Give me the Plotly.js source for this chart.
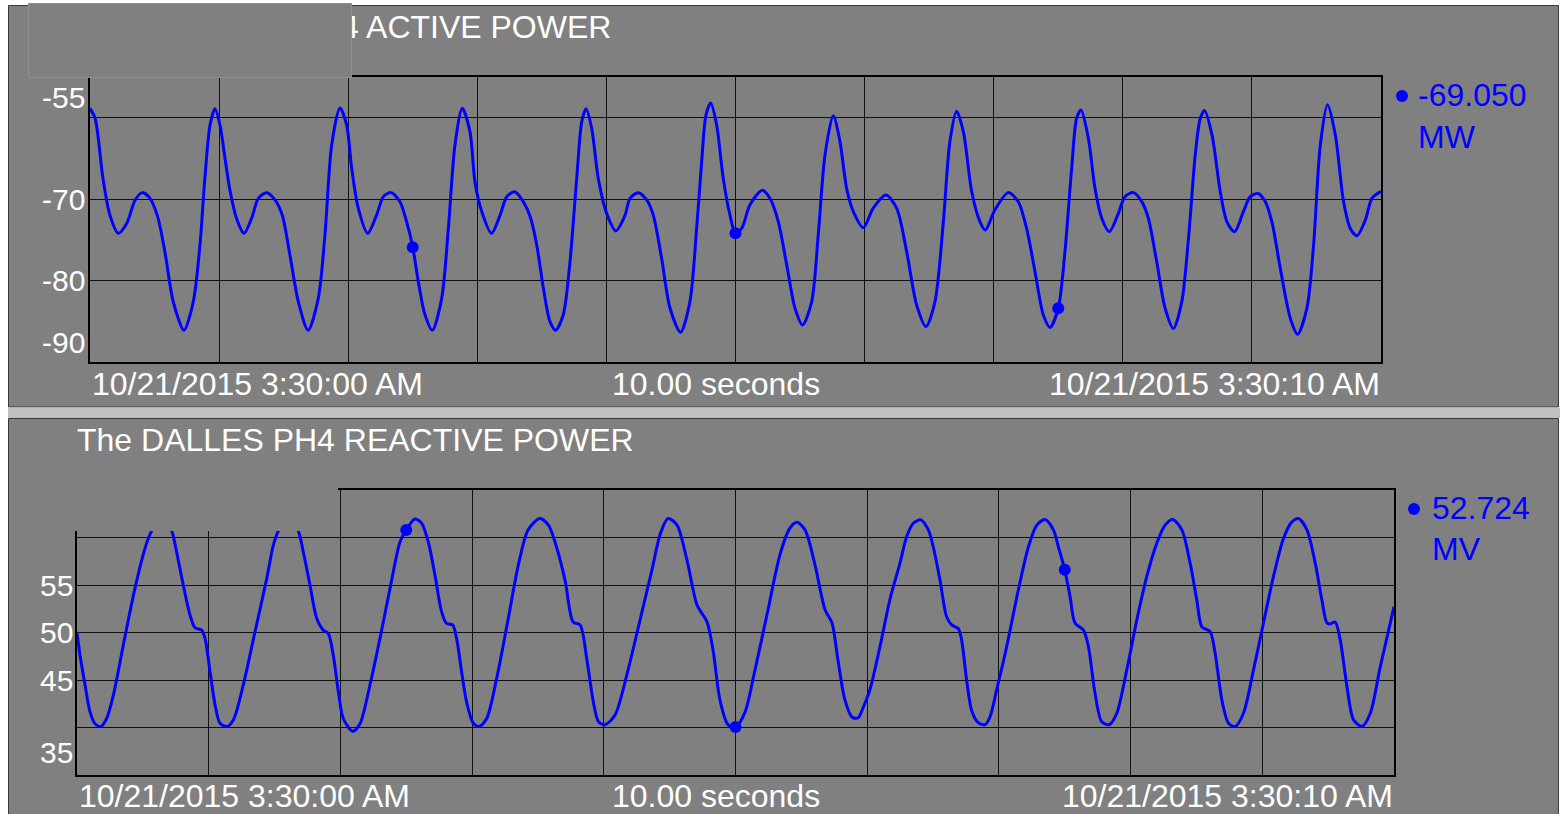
<!DOCTYPE html>
<html>
<head>
<meta charset="utf-8">
<script src="https://cdn.plot.ly/plotly-3.0.1.min.js"></script>
<style>html,body{margin:0;padding:0;background:#fff;}#chart{width:1560px;height:814px;}</style>
</head>
<body>
<div id="chart"></div>
<script>
// ---------- DATA ----------
// Seconds after 10/21/2015 3:30:00 AM
const activeTime = [0.00,0.04,0.10,0.155,0.22,0.284,0.35,0.405,0.465,0.524,0.58,0.645,0.728,0.80,0.852,0.89,0.93,0.968,
 1.007,1.046,1.084,1.136,1.193,1.252,1.304,1.369,1.433,1.49,1.549,1.614,1.69,1.768,1.82,1.872,1.936,1.988,
 2.027,2.078,2.151,2.22,2.272,2.332,2.40,2.453,2.50,2.543,2.595,2.652,2.724,2.776,2.827,2.884,2.943,2.982,
 3.034,3.11,3.176,3.228,3.29,3.356,3.41,3.46,3.512,3.563,3.607,3.666,3.718,3.77,3.809,3.842,3.886,3.937,
 4.002,4.074,4.144,4.183,4.247,4.312,4.363,4.428,4.493,4.575,4.647,4.699,4.738,4.771,4.808,4.854,4.905,4.957,
 5.00,5.048,5.112,5.208,5.267,5.332,5.397,5.461,5.52,5.59,5.641,5.693,5.757,5.809,5.861,5.912,5.99,
 6.067,6.166,6.248,6.326,6.403,6.476,6.545,6.61,6.661,6.713,6.765,6.83,6.894,6.935,
 7.01,7.113,7.19,7.255,7.32,7.384,7.436,7.50,7.552,7.604,7.642,7.676,7.733,7.785,7.837,7.896,7.966,
 8.017,8.082,8.147,8.198,8.263,8.328,8.392,8.457,8.509,8.561,8.60,8.633,8.691,8.755,8.807,8.866,8.935,8.987,
 9.047,9.103,9.155,9.22,9.297,9.354,9.426,9.478,9.53,9.586,9.646,9.71,9.762,9.814,9.879,9.93,10.0];
const activePower = [-58.85,-60.1,-67.4,-72.0,-74.2,-73.0,-70.1,-69.2,-69.9,-72.15,-76.45,-82.6,-86.1,-82.6,-75.6,-67.4,-60.9,-58.9,
 -60.9,-65.0,-68.9,-72.4,-74.2,-72.35,-69.9,-69.2,-70.1,-72.0,-76.9,-82.6,-86.1,-82.2,-74.4,-63.35,-58.8,-60.9,
 -66.2,-71.1,-74.2,-71.95,-69.7,-69.2,-70.3,-72.8,-75.9,-80.1,-84.2,-86.1,-82.2,-73.6,-63.35,-58.85,-61.7,-67.9,
 -71.5,-74.2,-72.0,-69.7,-69.1,-70.3,-72.15,-75.6,-80.95,-85.05,-86.1,-84.2,-77.7,-67.45,-60.5,-58.9,-61.3,-67.45,
 -71.75,-73.9,-72.0,-69.9,-69.2,-70.1,-71.95,-77.3,-83.4,-86.35,-82.6,-73.6,-65.4,-59.7,-58.2,-60.9,-67.45,-71.95,
 -74.2,-73.6,-70.7,-68.9,-69.9,-72.8,-78.1,-83.4,-85.45,-82.6,-74.4,-64.6,-59.75,-62.9,-68.7,-71.5,-73.5,
 -71.1,-69.5,-71.1,-76.45,-83.0,-85.65,-82.6,-72.8,-62.9,-59.2,-61.7,-69.1,-72.8,-73.8,
 -71.3,-69.2,-70.3,-73.6,-78.9,-84.2,-85.75,-83.4,-76.45,-66.2,-60.1,-59.05,-62.5,-68.7,-72.35,-74.0,-71.75,
 -69.7,-69.2,-70.3,-72.35,-77.7,-83.4,-85.9,-82.6,-74.8,-64.6,-60.1,-59.1,-62.1,-69.1,-72.8,-74.0,-71.5,-69.7,
 -69.3,-70.3,-72.8,-78.5,-84.6,-86.6,-83.4,-75.6,-63.35,-58.4,-62.1,-70.3,-73.6,-74.5,-72.55,-69.9,-69.05];

const reactiveTime = [0.00,0.023,0.061,0.099,0.137,0.18,0.225,0.276,0.352,0.44,0.524,0.567,0.645,0.719,0.756,0.807,0.858,0.896,0.947,0.972,
 1.01,1.048,1.086,1.137,1.187,1.263,1.352,1.441,1.491,1.529,1.605,1.68,1.718,1.769,1.82,1.87,1.908,1.946,1.984,
 2.022,2.093,2.149,2.225,2.301,2.377,2.453,2.50,2.566,2.617,2.667,2.718,2.768,2.806,2.852,2.882,2.92,2.958,
 3.009,3.054,3.111,3.187,3.275,3.351,3.425,3.515,3.58,3.63,3.706,3.767,3.82,3.872,3.918,3.96,
 4.009,4.085,4.184,4.275,4.366,4.427,4.488,4.556,4.632,4.708,4.784,4.829,4.882,4.943,
 5.00,5.072,5.148,5.247,5.338,5.414,5.467,5.528,5.604,5.68,5.733,5.778,5.831,5.884,5.93,5.968,
 6.021,6.097,6.173,6.249,6.30,6.35,6.406,6.464,6.502,6.553,6.603,6.641,6.692,6.717,6.755,6.793,6.844,6.895,6.932,6.983,
 7.059,7.148,7.224,7.288,7.35,7.414,7.452,7.50,7.54,7.578,7.642,7.68,7.73,7.781,7.839,7.895,7.971,
 8.047,8.123,8.199,8.262,8.32,8.389,8.452,8.503,8.541,8.604,8.642,8.693,8.743,8.794,8.857,8.933,
 9.009,9.085,9.161,9.225,9.275,9.339,9.402,9.453,9.491,9.516,9.554,9.592,9.643,9.693,9.757,9.82,9.896,10.0];
const reactivePower = [50.0,47.6,44.5,41.65,40.4,40.1,40.95,43.4,48.7,54.65,59.2,60.7,62.3,60.7,58.5,55.0,51.85,50.5,50.25,49.4,
 45.9,42.4,40.45,40.1,40.8,44.5,50.1,55.7,59.2,60.7,62.3,60.7,58.5,55.0,51.5,50.25,49.9,47.6,43.8,
 40.95,39.6,40.4,44.5,49.4,54.65,59.55,60.8,61.95,61.5,59.55,56.05,52.2,50.95,50.8,49.4,45.9,42.7,
 40.45,40.1,40.95,45.2,51.5,57.1,60.8,62.0,61.3,59.5,55.5,51.1,50.8,47.1,42.9,40.6,
 40.3,41.3,46.05,51.3,56.6,60.3,62.0,61.3,57.6,52.9,51.1,48.2,42.9,40.3,
 40.05,41.6,46.05,52.4,58.2,61.0,61.6,60.8,57.1,52.4,51.0,47.1,42.9,41.1,41.0,42.05,
 44.0,48.5,53.5,57.3,60.1,61.5,61.85,60.8,59.0,55.5,51.65,50.8,50.4,49.2,45.0,41.8,40.5,40.3,41.1,43.95,
 48.5,54.5,59.0,61.3,61.9,60.8,59.0,56.6,53.8,51.0,50.25,48.5,43.6,40.6,40.3,41.5,46.05,
 51.3,55.9,59.4,61.3,61.9,60.8,57.3,53.4,50.6,50.1,47.8,42.9,40.45,40.1,41.5,46.05,
 51.0,55.9,59.9,61.65,62.0,60.8,57.3,53.4,51.0,50.9,51.1,49.2,44.3,40.8,40.1,41.5,46.4,52.72];

const cursorTime = [2.5, 5.0, 7.5];
const activeCursor = [-75.9, -74.2, -83.4];
const reactiveCursor = [60.8, 40.05, 56.6];

const activeGrid = [-60, -70, -80];
const activeLabels = [-55, -70, -80, -90];
const reactiveGrid = [40, 45, 50, 55, 60];
const reactiveLabels = [55, 50, 45, 35];

const activeTitle = "The DALLES PH4 ACTIVE POWER";
const reactiveTitle = "The DALLES PH4 REACTIVE POWER";
const activeValue = "-69.050", activeUnit = "MW";
const reactiveValue = "52.724", reactiveUnit = "MV";
const startLabel = "10/21/2015 3:30:00 AM";
const spanLabel = "10.00 seconds";
const endLabel = "10/21/2015 3:30:10 AM";

// ---------- LAYOUT HELPERS ----------
const W = 1560, H = 814;
const X = p => p / W;
const Y = p => 1 - p / H;
const BLUE = '#0000ff', GRID = '#111111', WHITE = '#ffffff', PANEL = '#808080';
const FONT = 'Liberation Sans, Arial, sans-serif';

const traces = [
  {x: activeTime, y: activePower, xaxis: 'x', yaxis: 'y', mode: 'lines',
   line: {color: BLUE, width: 3, shape: 'spline', smoothing: 0.8}, hoverinfo: 'skip'},
  {x: cursorTime, y: activeCursor, xaxis: 'x', yaxis: 'y', mode: 'markers',
   marker: {color: BLUE, size: 12}, hoverinfo: 'skip'},
  {x: reactiveTime, y: reactivePower, xaxis: 'x2', yaxis: 'y2', mode: 'lines',
   line: {color: BLUE, width: 3, shape: 'spline', smoothing: 0.8}, hoverinfo: 'skip'},
  {x: cursorTime, y: reactiveCursor, xaxis: 'x2', yaxis: 'y2', mode: 'markers',
   marker: {color: BLUE, size: 12}, hoverinfo: 'skip'}
];

function xAxis(domain, anchor) {
  return {domain: domain, anchor: anchor, range: [0, 10], dtick: 1, tick0: 0,
    showgrid: true, gridcolor: GRID, gridwidth: 1, zeroline: false,
    showline: true, mirror: true, linecolor: '#000', linewidth: 2,
    showticklabels: false, ticks: ''};
}
function yAxis(domain, anchor, range, grid) {
  return {domain: domain, anchor: anchor, range: range, tickvals: grid,
    showgrid: true, gridcolor: GRID, gridwidth: 1, zeroline: false,
    showline: true, mirror: true, linecolor: '#000', linewidth: 2,
    showticklabels: false, ticks: ''};
}

const txt = (text, x, y, xanchor, size, color, extra) => Object.assign({
  text: text, xref: 'paper', yref: 'paper', x: x, y: y, xanchor: xanchor, yanchor: 'middle',
  showarrow: false, font: {family: FONT, size: size, color: color}}, extra || {});

const annotations = [];
// titles
annotations.push(txt(activeTitle, X(99), Y(27), 'left', 32, WHITE));
// box overlapping the upper-left corner of the top panel (covers start of title)
annotations.push({text: ' ', xref: 'paper', yref: 'paper', x: X(28), y: Y(3), xanchor: 'left', yanchor: 'top',
  width: 322, height: 73, bgcolor: PANEL, bordercolor: '#8e8e8e', borderwidth: 1, borderpad: 0,
  showarrow: false, font: {family: FONT, size: 10, color: PANEL}});
annotations.push(txt(reactiveTitle, X(75), Y(440), 'left', 32, WHITE));

// y labels
activeLabels.forEach(v => {
  let shift = 0; if (v === -55) shift = -20; if (v === -90) shift = 20;
  annotations.push({text: String(v), xref: 'paper', yref: 'y', x: X(87), y: v, yshift: shift,
    xanchor: 'right', yanchor: 'middle', showarrow: false, font: {family: FONT, size: 30, color: WHITE}});
});
reactiveLabels.forEach(v => {
  let shift = 0; if (v === 35) shift = 23;
  annotations.push({text: String(v), xref: 'paper', yref: 'y2', x: X(75), y: v, yshift: shift,
    xanchor: 'right', yanchor: 'middle', showarrow: false, font: {family: FONT, size: 30, color: WHITE}});
});

// time labels
annotations.push(txt(startLabel, X(90), Y(384), 'left', 32, WHITE));
annotations.push(txt(spanLabel, X(610), Y(384), 'left', 32, WHITE));
annotations.push(txt(endLabel, X(1382), Y(384), 'right', 32, WHITE));
annotations.push(txt(startLabel, X(77), Y(796), 'left', 32, WHITE));
annotations.push(txt(spanLabel, X(610), Y(796), 'left', 32, WHITE));
annotations.push(txt(endLabel, X(1395), Y(796), 'right', 32, WHITE));

// current values
annotations.push(txt(activeValue, X(1416), Y(95), 'left', 32, BLUE));
annotations.push(txt(activeUnit, X(1416), Y(137), 'left', 32, BLUE));
annotations.push(txt(reactiveValue, X(1430), Y(508), 'left', 32, BLUE));
annotations.push(txt(reactiveUnit, X(1430), Y(549), 'left', 32, BLUE));

const shapes = [
  {type: 'rect', xref: 'paper', yref: 'paper', x0: X(8.5), x1: X(1558.5), y0: Y(5.5), y1: Y(407),
   fillcolor: PANEL, line: {color: '#3a3a3a', width: 1}, layer: 'below'},
  {type: 'rect', xref: 'paper', yref: 'paper', x0: X(8), x1: X(1560), y0: Y(407.5), y1: Y(418),
   fillcolor: '#c0c0c0', line: {width: 0}, layer: 'below'},
  {type: 'rect', xref: 'paper', yref: 'paper', x0: X(8.5), x1: X(1558.5), y0: Y(418.5), y1: Y(816),
   fillcolor: PANEL, line: {color: '#3a3a3a', width: 1}, layer: 'below'},
  // overlay covering the upper-left part of the bottom plot
  {type: 'rect', xref: 'paper', yref: 'paper', x0: X(9.5), x1: X(338), y0: Y(419.5), y1: Y(531),
   fillcolor: PANEL, line: {width: 0}, layer: 'above'},
  // legend dots
  {type: 'circle', xref: 'paper', yref: 'paper', x0: X(1396), x1: X(1408), y0: Y(90), y1: Y(102),
   fillcolor: BLUE, line: {width: 0}, layer: 'above'},
  {type: 'circle', xref: 'paper', yref: 'paper', x0: X(1408), x1: X(1420), y0: Y(503), y1: Y(515),
   fillcolor: BLUE, line: {width: 0}, layer: 'above'}
];

const layout = {
  width: W, height: H, margin: {l: 0, r: 0, t: 0, b: 0, pad: 0},
  paper_bgcolor: '#ffffff', plot_bgcolor: PANEL, showlegend: false,
  font: {family: FONT, color: WHITE},
  xaxis: xAxis([X(90), X(1381)], 'y'),
  yaxis: yAxis([Y(362), Y(77)], 'x', [-90, -55], activeGrid),
  xaxis2: xAxis([X(77), X(1394)], 'y2'),
  yaxis2: yAxis([Y(775), Y(490)], 'x2', [35, 65], reactiveGrid),
  annotations: annotations,
  shapes: shapes
};

Plotly.newPlot('chart', traces, layout, {displayModeBar: false, staticPlot: true});
</script>
</body>
</html>
